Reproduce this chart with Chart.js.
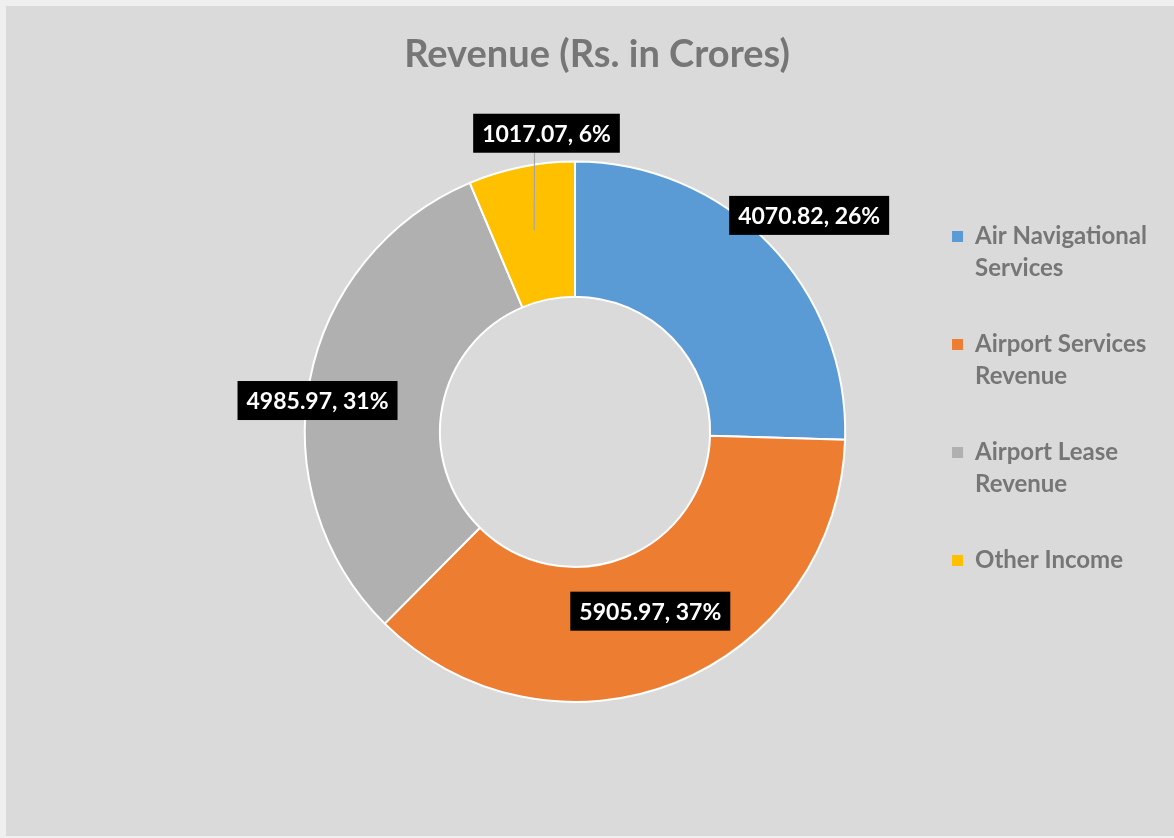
<!DOCTYPE html>
<html>
<head>
<meta charset="utf-8">
<script src="https://cdn.jsdelivr.net/npm/chart.js@4.4.1/dist/chart.umd.min.js"></script>
<style>
  html, body { margin: 0; padding: 0; background: #efefef; }
  #wrap { position: absolute; left: 6px; top: 6px; width: 1168px; height: 830px; background: #dadada; }
</style>
</head>
<body>
<div id="wrap"><canvas id="revenue-canvas"></canvas></div>
<script>
'use strict';

const categories = [
    ['Air Navigational', 'Services'],
    ['Airport Services', 'Revenue'],
    ['Airport Lease', 'Revenue'],
    ['Other Income']
];
const revenue = [4070.82, 5905.97, 4985.97, 1017.07];
const colors = ['#5b9bd5', '#ed7d31', '#b0b0b0', '#ffc000'];

// Percentages rounded so they add up to 100 (like Excel does)
function getShares(values) {
    let total = values.reduce((a, b) => a + b, 0);
    let raw = values.map(v => v / total * 100);
    let shares = raw.map(Math.floor);
    let left = 100 - shares.reduce((a, b) => a + b, 0);
    let order = raw.map((v, i) => i).sort((a, b) => (raw[b] - Math.floor(raw[b])) - (raw[a] - Math.floor(raw[a])));
    for (let k = 0; k < left; k++) shares[order[k]]++;
    return shares;
}

// Title is centred over the whole canvas, not only over the padded part
const wideTitle = {
    id: 'wideTitle',
    afterLayout(chart, args, opts) {
        chart.titleBlock.left = opts.left;
        chart.titleBlock.right = chart.width;
    }
};

// Black boxes with the value and share for every slice
const boxLabels = {
    id: 'boxLabels',
    afterDatasetsDraw(chart, args, opts) {
        let ctx = chart.ctx;
        let shares = getShares(revenue);
        chart.getDatasetMeta(0).data.forEach((arc, i) => {
            let p = arc.getProps(['x', 'y', 'startAngle', 'endAngle', 'outerRadius'], true);
            let place = opts.place[i];
            let mid = (p.startAngle + p.endAngle) / 2;
            let a = mid + place.shift * Math.PI / 180;
            let cx = p.x + Math.cos(a) * p.outerRadius * place.r;
            let cy = p.y + Math.sin(a) * p.outerRadius * place.r;
            let text = revenue[i].toFixed(2) + ', ' + shares[i] + '%';
            ctx.save();
            ctx.font = opts.font;
            let w = ctx.measureText(text).width + 2 * opts.padX;
            let h = opts.height;
            if (place.leader) {
                ctx.strokeStyle = '#a6a6a6';
                ctx.lineWidth = 1.2;
                ctx.beginPath();
                ctx.moveTo(cx - 12, cy + h / 2);
                ctx.lineTo(p.x + Math.cos(mid) * p.outerRadius * 0.76, p.y + Math.sin(mid) * p.outerRadius * 0.76);
                ctx.stroke();
            }
            ctx.fillStyle = '#000';
            ctx.fillRect(cx - w / 2, cy - h / 2, w, h);
            ctx.fillStyle = '#fff';
            ctx.textAlign = 'center';
            ctx.textBaseline = 'middle';
            ctx.fillText(text, cx, cy + 1);
            ctx.restore();
        });
    }
};

let chart = new Chart(document.getElementById('revenue-canvas'), {
    type: 'doughnut',
    data: {
        labels: categories,
        datasets: [{
            data: revenue,
            backgroundColor: colors,
            borderColor: '#ffffff',
            borderWidth: 2
        }]
    },
    options: {
        responsive: true,
        maintainAspectRatio: false,
        animation: false,
        cutout: '50%',
        layout: { padding: { left: 236, right: 17, top: 0, bottom: 133 } },
        plugins: {
            title: {
                display: true,
                text: 'Revenue (Rs. in Crores)',
                color: '#767676',
                font: { family: 'Lato', size: 38, weight: 'bold' },
                padding: { top: 26, bottom: 83 }
            },
            wideTitle: { left: 14 },
            legend: {
                position: 'right',
                align: 'start',
                fullSize: false,
                title: { display: true, text: ' ', font: { size: 9, lineHeight: 1 }, padding: { top: 11, bottom: 0 } },
                labels: {
                    color: '#767676',
                    font: { family: 'Lato', size: 24, weight: 'bold', lineHeight: 1.333 },
                    boxWidth: 11,
                    boxHeight: 11,
                    padding: 44,
                    generateLabels(chart) {
                        return categories.map((c, i) => ({
                            text: c,
                            fillStyle: colors[i],
                            strokeStyle: colors[i],
                            lineWidth: 0,
                            fontColor: '#767676',
                            index: i
                        }));
                    }
                }
            },
            tooltip: { enabled: false },
            boxLabels: {
                font: 'bold 23px Lato',
                padX: 9,
                height: 39,
                place: [
                    { r: 1.18, shift: 1.4 },
                    { r: 0.72, shift: -1 },
                    { r: 0.96, shift: -4 },
                    { r: 1.11, shift: 6, leader: true }
                ]
            }
        }
    },
    plugins: [wideTitle, boxLabels]
});
</script>
</body>
</html>
